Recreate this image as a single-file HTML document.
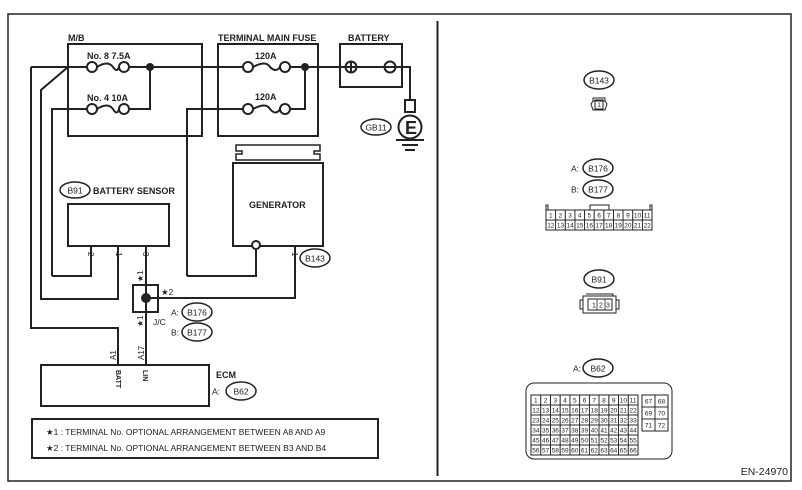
<!DOCTYPE html>
<html><head><meta charset="utf-8"><style>
html,body{margin:0;padding:0;background:#fff;}
svg{display:block;font-family:"Liberation Sans",sans-serif;}
text{fill:#222;}
</style></head><body>
<svg id="s" width="802" height="490" viewBox="0 0 802 490" xmlns="http://www.w3.org/2000/svg">
<g fill="none" stroke="#222" stroke-width="2">
<rect x="8" y="14" width="783" height="467" stroke-width="1.5"/>
<line x1="437.5" y1="21" x2="437.5" y2="476"/>
<!-- M/B -->
<rect x="68" y="44" width="134" height="92"/>
<rect x="218" y="44" width="100" height="92"/>
<rect x="340" y="44" width="62" height="43"/>
<!-- main wire -->
<path d="M31 67 H87 M97 67 Q108 60 113 67 Q117 73 119 67 M129 67 H243 M253 67 Q266 60 270 67 Q276 73 280 67 M290 67 H346 M356 67 H385 M395 67 H410 V100"/>
<path d="M31 67 V328 H118 V365"/>
<path d="M68 67 L41 90 V299 H118 V246"/>
<path d="M52 276 V109 H87 M97 109 Q108 102 113 109 Q117 116 119 109 M129 109 H150 V67"/>
<path d="M52 276 H91 V246"/>
<path d="M187 276 V109 H243 M253 109 Q266 102 270 109 Q276 116 280 109 M290 109 H305 V67"/>
<path d="M187 276 H256 V250"/>
<path d="M146 246 V365"/>
<path d="M146 298 H295 V246"/>
<circle cx="92" cy="67" r="5"/><circle cx="124" cy="67" r="5"/>
<circle cx="92" cy="109" r="5"/><circle cx="124" cy="109" r="5"/>
<circle cx="248" cy="67" r="5"/><circle cx="285" cy="67" r="5"/>
<circle cx="248" cy="109" r="5"/><circle cx="285" cy="109" r="5"/>
<circle cx="351" cy="67" r="5.5"/><path d="M345.5 67 H356.5 M351 61.5 V72.5"/>
<circle cx="390" cy="67" r="5.5"/><path d="M384.5 67 H395.5"/>
<rect x="405" y="100" width="10" height="12"/>
<circle cx="410" cy="127" r="11.5"/>
<path d="M396 140 H424 M402 145 H418 M405 150 H415"/>
<!-- generator -->
<path d="M236 145 H320 V151 H314 V154 H320 V160 H236 V154 H242 V151 H236 Z" stroke-width="1.5"/>
<rect x="233" y="163" width="90" height="83"/>
<circle cx="256" cy="245" r="4" fill="#fff"/>
<rect x="68" y="204" width="101" height="42"/>
<rect x="133" y="285" width="25" height="27"/>
<rect x="41" y="365" width="168" height="41"/>
<rect x="32" y="419" width="346" height="39"/>
</g>
<g fill="#222">
<circle cx="150" cy="67" r="4"/><circle cx="305" cy="67" r="4"/><circle cx="146" cy="298" r="5"/>
</g>
<g fill="none" stroke="#222" stroke-width="1.5">
<ellipse cx="376" cy="127" rx="15" ry="8"/>
<ellipse cx="75" cy="190" rx="15" ry="8"/>
<ellipse cx="315" cy="258" rx="15" ry="9"/>
<ellipse cx="197" cy="312" rx="15" ry="9"/>
<ellipse cx="197" cy="332" rx="15" ry="9"/>
<ellipse cx="241" cy="391" rx="15" ry="9"/>
<ellipse cx="599" cy="80" rx="15" ry="9"/>
<ellipse cx="598" cy="168" rx="15" ry="9"/>
<ellipse cx="598" cy="189" rx="15" ry="9"/>
<ellipse cx="599" cy="279" rx="15" ry="9"/>
<ellipse cx="598" cy="368" rx="15" ry="9"/>
</g>
<g font-size="9" font-weight="bold">
<text x="68" y="41">M/B</text>
<text x="218" y="41">TERMINAL MAIN FUSE</text>
<text x="348" y="41">BATTERY</text>
<text x="87" y="59">No. 8  7.5A</text>
<text x="87" y="101">No. 4  10A</text>
<text x="255" y="59">120A</text>
<text x="255" y="100">120A</text>
<text x="93" y="194">BATTERY SENSOR</text>
<text x="249" y="208">GENERATOR</text>
<text x="216" y="378">ECM</text>
<text x="405" y="134" font-size="18">E</text>
</g>
<g font-size="8.5">
<text x="376" y="130.5" text-anchor="middle">GB11</text>
<text x="75" y="193.5" text-anchor="middle">B91</text>
<text x="315" y="261.5" text-anchor="middle">B143</text>
<text x="197" y="315.5" text-anchor="middle">B176</text>
<text x="197" y="335.5" text-anchor="middle">B177</text>
<text x="241" y="394.5" text-anchor="middle">B62</text>
<text x="171" y="315.5">A:</text>
<text x="171" y="335.5">B:</text>
<text x="212" y="394.5">A:</text>
<text x="153" y="325">J/C</text>
<text x="161" y="295">★2</text>
<text x="599" y="83.5" text-anchor="middle">B143</text>
<text x="598" y="171.5" text-anchor="middle">B176</text>
<text x="598" y="192.5" text-anchor="middle">B177</text>
<text x="599" y="282.5" text-anchor="middle">B91</text>
<text x="598" y="371.5" text-anchor="middle">B62</text>
<text x="571" y="171.5">A:</text>
<text x="571" y="192.5">B:</text>
<text x="573" y="371.5">A:</text>
<text x="46" y="435">★1  : TERMINAL No. OPTIONAL ARRANGEMENT BETWEEN A8 AND A9</text>
<text x="46" y="451">★2  : TERMINAL No. OPTIONAL ARRANGEMENT BETWEEN B3 AND B4</text>
<text x="788" y="475" text-anchor="end" font-size="10.5">EN-24970</text>
</g>
<g font-size="8">
<text transform="translate(88,252) rotate(90)">2</text>
<text transform="translate(116,252) rotate(90)">1</text>
<text transform="translate(143,252) rotate(90)">3</text>
<text transform="translate(292,252) rotate(90)">1</text>
<text transform="translate(143,282) rotate(-90)">★1</text>
<text transform="translate(143,327) rotate(-90)">★1</text>
<text transform="translate(116,360) rotate(-90)">A1</text>
<text transform="translate(144,360) rotate(-90)">A17</text>
<text transform="translate(116,370) rotate(90)" font-size="7" font-weight="bold">BATT</text>
<text transform="translate(143,370) rotate(90)" font-size="7" font-weight="bold">LIN</text>
</g>
<!-- right connectors -->
<g fill="none" stroke="#222" stroke-width="1">
<path d="M593 98 H605 V101 H593 Z"/>
<path d="M593 101 H605 L607 104 L605 110 H593 L591 104 Z"/>
<rect x="595" y="100" width="8" height="9"/>
<path d="M546 210 V205 H548 V210 M652 210 V205 H650 V210 M590 210 V205 H609 V210"/>
<rect x="546" y="210" width="106" height="20"/>
<path d="M583 296 H616 V313 H583 Z M586 294 H613 V296 M583 300 H580 V309 H583 M616 300 H619 V309 H616"/>
<rect x="588" y="299" width="24" height="11"/>
<rect x="526" y="383" width="146" height="76" rx="8"/>
<rect x="531" y="395" width="107" height="60"/>
<rect x="642" y="395" width="26" height="36"/>
</g>
<g id="grids" font-size="6.5" fill="#222"></g>
<text x="599" y="107" font-size="6.5" text-anchor="middle">1</text>
<text x="594" y="307.5" font-size="7" text-anchor="middle">1</text>
<text x="601" y="307.5" font-size="7" text-anchor="middle">2</text>
<text x="608" y="307.5" font-size="7" text-anchor="middle">3</text>
<path d="M597 299 V310 M605 299 V310" stroke="#222" stroke-width="0.8"/>
</svg>
<script>
var NS="http://www.w3.org/2000/svg",g=document.getElementById("grids");
function cell(x,y,w,h,t){var r=document.createElementNS(NS,"rect");r.setAttribute("x",x);r.setAttribute("y",y);r.setAttribute("width",w);r.setAttribute("height",h);r.setAttribute("fill","none");r.setAttribute("stroke","#222");r.setAttribute("stroke-width","0.8");g.appendChild(r);var s=document.createElementNS(NS,"text");s.setAttribute("x",x+w/2);s.setAttribute("y",y+h/2+2.3);s.setAttribute("text-anchor","middle");s.textContent=t;g.appendChild(s);}
var w=106/11;for(var i=0;i<22;i++){cell(546+(i%11)*w,210+Math.floor(i/11)*10,w,10,i+1);}
w=107/11;for(i=0;i<66;i++){cell(531+(i%11)*w,395+Math.floor(i/11)*10,w,10,i+1);}
for(i=0;i<6;i++){cell(642+(i%2)*13,395+Math.floor(i/2)*12,13,12,67+i);}
</script>
</body></html>
